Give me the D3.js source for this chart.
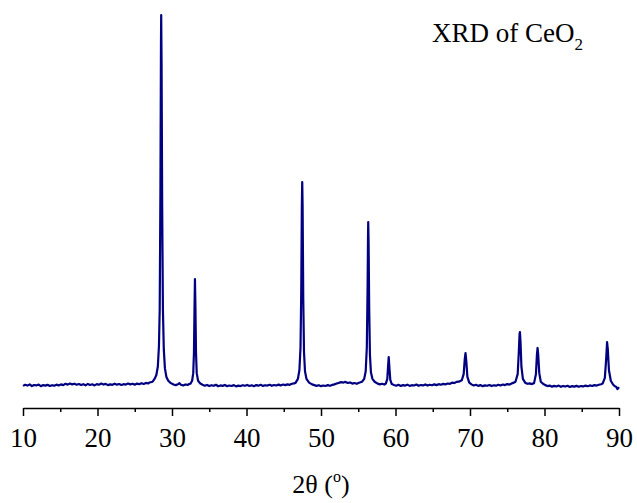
<!DOCTYPE html>
<html>
<head>
<meta charset="utf-8">
<script src="https://cdn.jsdelivr.net/npm/d3@7"></script>
<style>
  body { margin: 0; background: #fff; }
  text { font-family: "Liberation Serif", "Times New Roman", serif; }
</style>
</head>
<body>
<div id="chart"></div>
<script>
// XRD scan of CeO2, [2theta, counts]
const baseLeft = [
  [10.0,96],[10.3,108],[10.6,99],[10.9,112],[11.2,94],[11.5,105],[11.8,101],[12.1,110],[12.4,93],[12.7,104],
  [13.0,99],[13.3,107],[13.6,95],[13.9,103],[14.2,98],[14.5,109],[14.8,100],[15.1,112],[15.4,104],[15.7,118],
  [16.0,109],[16.3,121],[16.6,112],[16.9,119],[17.2,108],[17.5,116],[17.8,105],[18.1,114],[18.4,102],[18.7,117],
  [19.0,106],[19.3,113],[19.6,101],[19.9,115],[20.2,108],[20.5,120],[20.8,110],[21.1,117],[21.4,104],[21.7,112],
  [22.0,107],[22.3,119],[22.6,109],[22.9,116],[23.2,106],[23.5,114],[23.8,110],[24.1,121],[24.4,112],[24.7,118],
  [25.0,109],[25.3,120],[25.6,113],[25.9,124],[26.2,116],[26.5,127],[26.8,121]
];
const peak111 = [
  [27.0,132],[27.4,140],[27.7,175],[27.9,210],[28.1,300],[28.25,520],[28.35,900],[28.45,2200],[28.52,3700],
  [28.55,4000],[28.6,3500],[28.68,2000],[28.78,900],[28.9,480],[29.05,280],[29.25,190],[29.5,150],[29.8,128]
];
const base2 = [
  [30.2,110],[30.5,104],[30.8,113],[31.0,124],[31.2,108],[31.5,100],[31.8,111],[32.1,106],[32.3,115]
];
const peak200 = [
  [32.5,120],[32.7,150],[32.85,230],[32.95,450],[33.02,900],[33.08,1221],[33.14,950],[33.22,450],[33.32,230],
  [33.5,150],[33.8,120]
];
const base3 = [
  [34.1,108],[34.4,98],[34.7,106],[35.0,94],[35.3,103],[35.6,97],[35.9,108],[36.2,92],[36.5,101],[36.8,96],
  [37.1,106],[37.4,93],[37.7,100],[38.0,95],[38.3,104],[38.6,91],[38.9,99],[39.2,94],[39.5,103],[39.8,97],
  [40.1,106],[40.4,95],[40.7,102],[41.0,93],[41.3,104],[41.6,98],[41.9,107],[42.2,96],[42.5,103],[42.8,99],
  [43.1,108],[43.4,97],[43.7,105],[44.0,100],[44.3,109],[44.6,101],[44.9,110],[45.2,104],[45.5,112],[45.8,107],
  [46.1,118],[46.4,122]
];
const peak220 = [
  [46.6,130],[46.9,170],[47.1,260],[47.25,500],[47.35,1100],[47.43,2000],[47.48,2242],[47.53,2000],[47.62,1000],
  [47.72,450],[47.85,250],[48.05,170],[48.4,130]
];
const base4 = [
  [48.8,112],[49.1,104],[49.4,96],[49.7,103],[50.0,93],[50.3,100],[50.6,95],[50.9,104],[51.2,97],[51.5,106],
  [51.8,112],[52.1,121],[52.4,128],[52.7,136],[53.0,131],[53.3,138],[53.6,127],[53.9,132],[54.2,120],[54.5,126],
  [54.8,118],[55.1,129],[55.3,134]
];
const peak311 = [
  [55.5,140],[55.8,170],[56.0,250],[56.15,500],[56.25,1100],[56.31,1650],[56.34,1821],[56.39,1600],[56.47,900],
  [56.57,420],[56.7,240],[56.9,170],[57.2,140],[57.6,120],[57.9,112],[58.2,118],[58.5,110]
];
const peak222 = [
  [58.7,120],[58.9,170],[59.0,300],[59.09,400],[59.18,290],[59.3,160],[59.5,115]
];
const base5 = [
  [59.8,106],[60.1,98],[60.4,107],[60.7,95],[61.0,104],[61.3,99],[61.6,109],[61.9,96],[62.2,103],[62.5,100],
  [62.8,110],[63.1,97],[63.4,105],[63.7,101],[64.0,111],[64.3,99],[64.6,108],[64.9,103],[65.2,112],[65.5,104],
  [65.8,114],[66.1,108],[66.4,117],[66.7,112],[67.0,121],[67.3,118],[67.6,130],[67.9,126],[68.2,138]
];
const peak400 = [
  [68.5,140],[68.9,155],[69.15,220],[69.3,380],[69.4,442],[69.5,360],[69.65,190],[69.9,130]
];
const base6 = [
  [70.2,112],[70.5,100],[70.8,108],[71.1,96],[71.4,104],[71.7,93],[72.0,101],[72.3,97],[72.6,106],[72.9,94],
  [73.2,102],[73.5,98],[73.8,108],[74.1,100],[74.4,110],[74.7,104],[75.0,115],[75.3,110],[75.6,122],[75.9,130]
];
const peak331 = [
  [76.1,140],[76.4,220],[76.55,450],[76.65,640],[76.7,663],[76.78,560],[76.9,300],[77.1,170],[77.4,130],
  [77.7,118],[78.0,122],[78.3,115]
];
const peak420 = [
  [78.6,125],[78.85,220],[78.98,420],[79.07,495],[79.15,430],[79.3,230],[79.5,140],[79.8,118]
];
const base7 = [
  [80.1,104],[80.4,94],[80.7,99],[81.0,88],[81.3,96],[81.6,90],[81.9,99],[82.2,86],[82.5,95],[82.8,89],
  [83.1,97],[83.4,85],[83.7,93],[84.0,88],[84.3,96],[84.6,86],[84.9,94],[85.2,90],[85.5,99],[85.8,92],
  [86.1,101],[86.4,95],[86.7,104],[87.0,99],[87.3,108],[87.6,113]
];
const peak422 = [
  [87.8,120],[88.1,180],[88.28,380],[88.4,558],[88.5,480],[88.65,260],[88.9,150],[89.2,110],[89.4,95],
  [89.6,88],[89.8,62],[90.0,84]
];

const xTicks = [10, 20, 30, 40, 50, 60, 70, 80, 90];
const xMinor = [15, 25, 35, 45, 55, 65, 75, 85];
const titleText = "XRD of CeO";

const scan = [].concat(baseLeft, peak111, base2, peak200, base3, peak220, base4, peak311,
  peak222, base5, peak400, base6, peak331, peak420, base7, peak422);

var svg = d3.select("#chart").append("svg")
  .attr("width", 637)
  .attr("height", 503);

var x = d3.scaleLinear().domain([10, 90]).range([23, 619]);
var y = d3.scaleLinear().domain([0, 4000]).range([395, 15]);

// minor ticks first, then major axis on top
svg.append("g")
  .attr("transform", "translate(0,408)")
  .call(d3.axisBottom(x).tickValues(xMinor).tickSize(4).tickSizeOuter(0).tickFormat(""))
  .call(g => g.select(".domain").remove())
  .call(g => g.selectAll("line").attr("stroke", "#000").attr("stroke-width", 1.5));

var xAxis = svg.append("g")
  .attr("transform", "translate(0,408)")
  .attr("font-family", "'Liberation Serif', serif")
  .attr("font-size", 27)
  .call(d3.axisBottom(x).tickValues(xTicks).tickSize(8).tickSizeOuter(0).tickPadding(12));
xAxis.select(".domain").attr("stroke", "#000").attr("stroke-width", 1.5);
xAxis.selectAll("line").attr("stroke", "#000").attr("stroke-width", 1.5);
xAxis.selectAll("text")
  .style("font-family", "'Liberation Serif', serif")
  .style("font-size", "27px")
  .attr("fill", "#000");

// the scan
var line = d3.line()
  .x(d => x(d[0]))
  .y(d => y(d[1]));

svg.append("path")
  .datum(scan)
  .attr("d", line)
  .attr("fill", "none")
  .attr("stroke", "#000080")
  .attr("stroke-width", 2.2)
  .attr("stroke-linejoin", "round");

// axis title 2θ (°)
var xl = svg.append("text")
  .attr("x", 321)
  .attr("y", 493)
  .style("text-anchor", "middle")
  .style("font-size", "26px");
xl.append("tspan").text("2θ (");
xl.append("tspan").attr("dy", -11).style("font-size", "16px").text("o");
xl.append("tspan").attr("dy", 11).text(")");

// title
var tt = svg.append("text")
  .attr("x", 432)
  .attr("y", 42)
  .style("font-size", "27px");
tt.append("tspan").text(titleText);
tt.append("tspan").attr("dy", 8).style("font-size", "17px").text("2");
</script>
</body>
</html>
